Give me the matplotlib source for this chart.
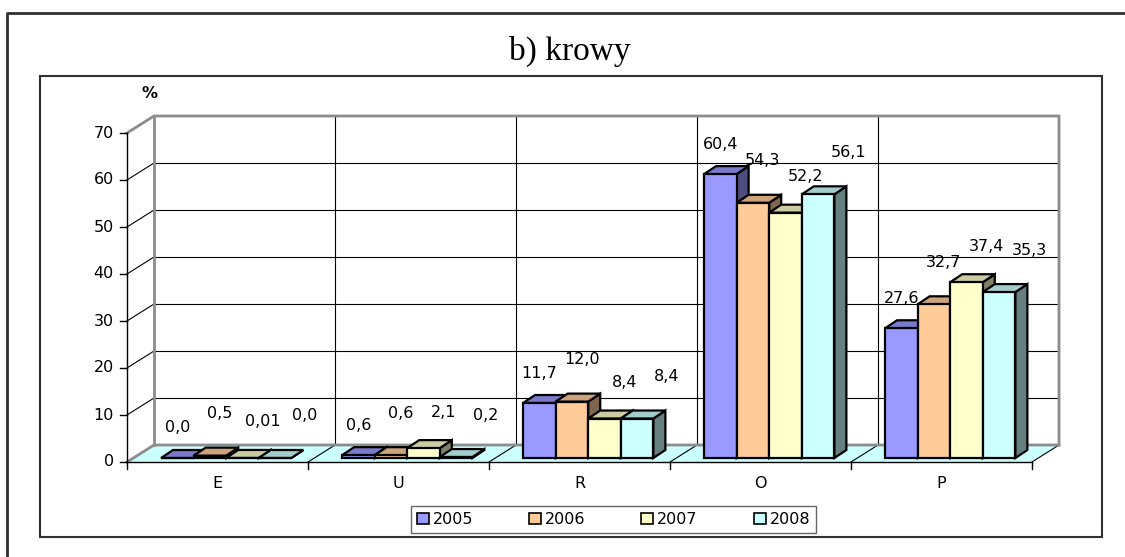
import matplotlib
matplotlib.use("Agg")
import matplotlib.pyplot as plt
from matplotlib.patches import Polygon, Rectangle, Patch
from matplotlib.lines import Line2D

# =========================
# Data
# =========================
categories = ["E", "U", "R", "O", "P"]
years = ["2005", "2006", "2007", "2008"]
v2005 = [0.0, 0.6, 11.7, 60.4, 27.6]
v2006 = [0.5, 0.6, 12.0, 54.3, 32.7]
v2007 = [0.01, 2.1, 8.4, 52.2, 37.4]
v2008 = [0.0, 0.2, 8.4, 56.1, 35.3]
labels2005 = ["0,0", "0,6", "11,7", "60,4", "27,6"]
labels2006 = ["0,5", "0,6", "12,0", "54,3", "32,7"]
labels2007 = ["0,01", "2,1", "8,4", "52,2", "37,4"]
labels2008 = ["0,0", "0,2", "8,4", "56,1", "35,3"]
y_ticks = [0, 10, 20, 30, 40, 50, 60, 70]

series = [v2005, v2006, v2007, v2008]
series_labels = [labels2005, labels2006, labels2007, labels2008]

# =========================
# Style
# =========================
face = ["#9999FF", "#FFCC99", "#FFFFCC", "#CCFFFF"]
top = ["#7A7ACC", "#CCA37A", "#CCCCA3", "#A3CCCC"]
side = ["#4D4D80", "#806650", "#808066", "#668080"]
FONT = "DejaVu Sans"
FS = 11.5

W, H = 1125, 557
fig = plt.figure(figsize=(W / 100, H / 100), dpi=100)
fig.patch.set_facecolor("white")

# axis frame in pixels (front plane)
x0, x1, y0, y1 = 127, 1032, 462, 133
ax = fig.add_axes([x0 / W, (H - y0) / H, (x1 - x0) / W, (y0 - y1) / H])
ax.set_xlim(0, len(categories))
ax.set_ylim(0, 70)
ax.axis("off")

# pixel -> data units
sx = len(categories) / (x1 - x0)
sy = 70 / (y0 - y1)

def off(px, py):
    return px * sx, py * sy

wall_dx, wall_dy = off(27, 17)
bf_dx, bf_dy = off(6, 4)      # bar front plane
bb_dx, bb_dy = off(18, 12)    # bar back plane
n = len(categories)
ymax = y_ticks[-1]

# back wall
ax.add_patch(Rectangle((wall_dx, wall_dy), n, ymax, facecolor="white",
                       edgecolor="none", clip_on=False, zorder=0))
# floor
ax.add_patch(Polygon([(0, 0), (n, 0), (n + wall_dx, wall_dy), (wall_dx, wall_dy)],
                     closed=True, facecolor="#CCFFFF", edgecolor="none",
                     clip_on=False, zorder=1))

# horizontal gridlines on back and side wall
for t in y_ticks[1:-1]:
    ax.plot([wall_dx, n + wall_dx], [t + wall_dy] * 2, color="black", lw=0.8,
            clip_on=False, zorder=2)
    ax.plot([0, wall_dx], [t, t + wall_dy], color="black", lw=0.8,
            clip_on=False, zorder=2)
# vertical gridlines on back wall + floor diagonals
for i in range(1, n + 1):
    if i < n:
        ax.plot([i + wall_dx] * 2, [wall_dy, ymax + wall_dy], color="black",
                lw=0.8, clip_on=False, zorder=2)
    ax.plot([i, i + wall_dx], [0, wall_dy], color="black", lw=0.8,
            clip_on=False, zorder=2)

# wall border (gray)
gray = "#8C8C8C"
ax.plot([0, wall_dx, n + wall_dx, n + wall_dx], [ymax, ymax + wall_dy, ymax + wall_dy, wall_dy],
        color=gray, lw=2, clip_on=False, zorder=2, solid_joinstyle="miter")
ax.plot([wall_dx, wall_dx], [wall_dy, ymax + wall_dy], color=gray, lw=2,
        clip_on=False, zorder=2)
ax.plot([0, wall_dx, n + wall_dx], [0, wall_dy, wall_dy], color=gray, lw=2,
        clip_on=False, zorder=2)

# front axes
ax.plot([0, 0], [0, ymax], color="black", lw=1, clip_on=False, zorder=3)
ax.plot([0, n], [0, 0], color="black", lw=1, clip_on=False, zorder=3)
tick_x = 7 * sx
for t in y_ticks:
    ax.plot([-tick_x, 0], [t, t], color="black", lw=1, clip_on=False, zorder=3)
    ax.text(-13 * sx, t, str(t), ha="right", va="center", fontsize=FS,
            family=FONT, clip_on=False)
for i in range(n + 1):
    ax.plot([i, i], [0, -7 * sy], color="black", lw=1, clip_on=False, zorder=3)
for i, c in enumerate(categories):
    ax.text(i + 0.5, -21 * sy, c, ha="center", va="center", fontsize=FS,
            family=FONT, clip_on=False)
ax.text(22 * sx, ymax + 40 * sy, "%", ha="center", va="center", fontsize=FS,
        fontweight="bold", family=FONT, clip_on=False)

# 3D bars
start, bw = 0.155, 0.18
label_dx = [0, 10, 20, 30]
label_dy = [30, 42, 36, 42]
ec, elw = "black", 1.6
for i in range(n):
    for k, vals in enumerate(series):
        v = vals[i]
        xl = i + start + k * bw + bf_dx
        xr = xl + bw
        yb = bf_dy
        yt = v + bf_dy
        ddx, ddy = bb_dx - bf_dx, bb_dy - bf_dy
        z = 5 + i * 4 + k
        # side
        ax.add_patch(Polygon([(xr, yb), (xr + ddx, yb + ddy), (xr + ddx, yt + ddy), (xr, yt)],
                             closed=True, facecolor=side[k], edgecolor=ec, lw=elw,
                             joinstyle="miter", clip_on=False, zorder=z))
        # top
        ax.add_patch(Polygon([(xl, yt), (xr, yt), (xr + ddx, yt + ddy), (xl + ddx, yt + ddy)],
                             closed=True, facecolor=top[k], edgecolor=ec, lw=elw,
                             joinstyle="miter", clip_on=False, zorder=z))
        # front
        ax.add_patch(Rectangle((xl, yb), bw, v, facecolor=face[k], edgecolor=ec,
                               lw=elw, joinstyle="miter", clip_on=False, zorder=z))
        ax.text(xl + bw / 2 + label_dx[k] * sx, yt + label_dy[k] * sy,
                series_labels[k][i], ha="center", va="center", fontsize=FS,
                family=FONT, clip_on=False, zorder=30)

# title
fig.text(570 / W, 1 - 51 / H, "b) krowy", ha="center", va="center",
         fontsize=24, family="Liberation Serif")

# legend
handles = [Patch(facecolor=face[k], edgecolor="black", lw=1.2, label=years[k])
           for k in range(len(years))]
leg = fig.legend(handles=handles, ncol=4, loc="center",
                 bbox_to_anchor=(613.5 / W, 1 - 519.5 / H), frameon=True,
                 fancybox=False, edgecolor="#404040",
                 prop={"family": FONT, "size": FS},
                 handlelength=0.75, handleheight=0.75, handletextpad=0.25,
                 columnspacing=3.5, borderpad=0.35, borderaxespad=0)
leg.get_frame().set_linewidth(1.0)

# frames
fig.add_artist(Rectangle((40 / W, (H - 537) / H), (1102 - 40) / W, (537 - 76) / H,
                         transform=fig.transFigure, fill=False,
                         edgecolor="#303030", lw=1.5))
fig.add_artist(Line2D([7 / W, 7 / W, 1.0], [0, 1 - 13 / H, 1 - 13 / H],
                      transform=fig.transFigure, color="#303030", lw=2))

fig.savefig("out.png", dpi=100)
